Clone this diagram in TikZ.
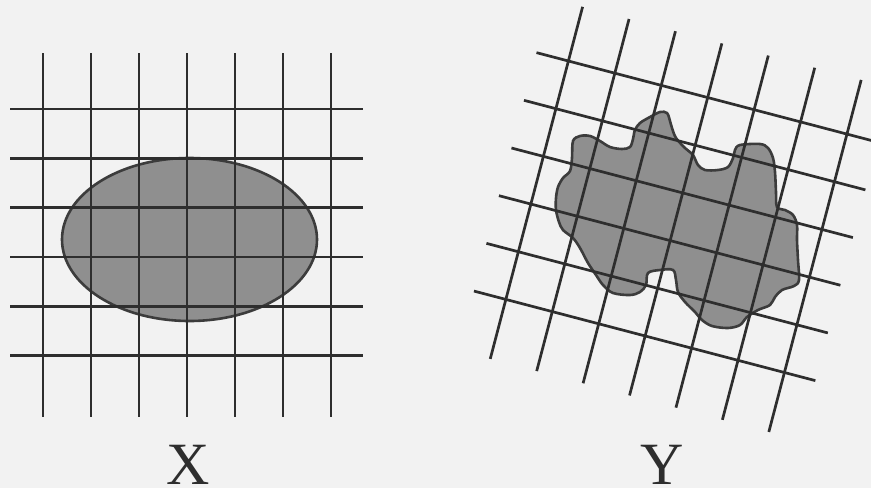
\documentclass[tikz,border=0pt]{standalone}
\usepackage{fontspec}
\setmainfont{Liberation Serif}
\definecolor{bgc}{HTML}{F2F2F2}
\definecolor{shapefill}{HTML}{8F8F8F}
\definecolor{gridc}{HTML}{2E2E2E}
\definecolor{edgec}{HTML}{3C3C3C}
\tikzset{
  gridline/.style={draw=gridc, line width=2.7pt},
  region/.style={fill=shapefill, draw=edgec, line width=2.6pt},
  letter/.style={font=\fontsize{60}{60}\selectfont, text=gridc, inner sep=0pt, anchor=base}
}
\newcommand{\drawlattice}{%
  \foreach \i in {0,...,6} \draw[gridline] (48*\i,-56) -- (48*\i,308);
  \foreach \j in {0,...,5} \draw[gridline] (-33,49.3*\j) -- (320,49.3*\j);
}
\begin{document}
\begin{tikzpicture}[x=1pt,y=-1pt]
\useasboundingbox (0,0) rectangle (871,488);
\fill[bgc] (0,0) rectangle (871,488);
% left: ellipse
\path[region] (189.5,239.5) ellipse [x radius=127.5, y radius=81.5];
\begin{scope}[shift={(43,109)}]
\drawlattice
\end{scope}
% right: irregular blob
\path[region] plot[smooth cycle, tension=0.55] coordinates {
(573,141) (580,136) (590,136) (600,141) (610,147) (622,149) (630,147) (633,139)
(635,130) (640,123) (650,117) (660,112) (667,113) (670,121) (672,128) (676,138)
(685,148) (693,155) (698,165) (705,170) (718,170) (728,167) (733,158) (735,150)
(740,145) (760,144) (768,148) (773,158) (775,172) (776,192) (777,207) (785,210)
(793,215) (797,225) (797,240) (798,260) (799,280) (794,286) (782,290) (775,297)
(770,305) (758,310) (747,317) (740,325) (728,328) (712,326) (702,320) (695,312)
(685,302) (678,292) (676,280) (673,270) (660,270) (648,273) (646,285) (640,292)
(630,295) (613,293) (603,285) (596,275) (588,263) (580,248) (573,238) (563,230)
(559,222) (556,210) (556,198) (558,187) (563,178) (570,171) (572,158)};
\begin{scope}[shift={(568.4,61)}]
\begin{scope}[rotate=-14.7]
\drawlattice
\end{scope}
\end{scope}
% labels
\node[letter] (labx) at (188,484) {X};
\node[letter] (laby) at (662,484) {Y};
\end{tikzpicture}
\end{document}
